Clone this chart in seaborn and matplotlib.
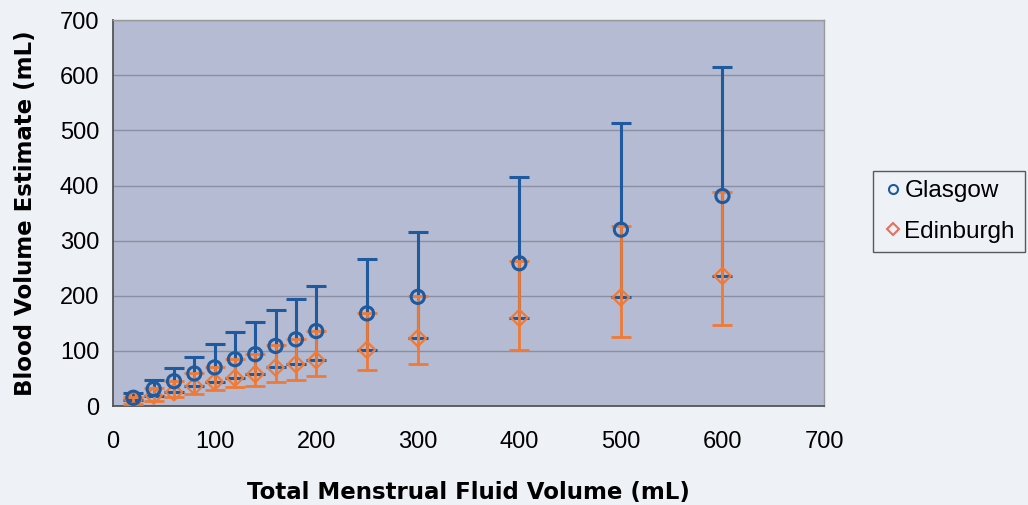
import matplotlib
matplotlib.use("Agg")
import matplotlib.pyplot as plt
import seaborn as sns
import pandas as pd
import numpy as np
from matplotlib.lines import Line2D

# ---- data ----
fluid = [20, 40, 60, 80, 100, 120, 140, 160, 180, 200, 250, 300, 400, 500, 600]
glasgow = [15, 31, 45, 59, 70, 85, 94, 109, 121, 136, 168, 198, 259, 320, 381]
glasgow_upper = [23, 47, 69, 89, 112, 134, 153, 174, 195, 218, 267, 315, 416, 514, 615]
edinburgh = [11, 19, 25, 36, 44, 51, 58, 70, 76, 83, 102, 123, 160, 197, 236]
edinburgh_lower = [4, 10, 17, 21, 29, 34, 36, 44, 47, 54, 66, 76, 102, 125, 147]
edinburgh_upper = [16, 32, 46, 60, 71, 86, 95, 110, 122, 137, 169, 199, 264, 327, 389]
x_ticks = [0, 100, 200, 300, 400, 500, 600, 700]
y_ticks = [0, 100, 200, 300, 400, 500, 600, 700]

BLUE = "#1f5a9e"
ORANGE = "#f07a35"
PLOT_BG = "#b5bbd2"
FIG_BG = "#eef2f7"
GRID = "#8a8fa3"

sns.set_theme(style="white")
plt.rcParams["font.family"] = ["Liberation Sans", "DejaVu Sans"]
plt.rcParams["text.color"] = "black"

fig = plt.figure(figsize=(10.28, 5.05), dpi=100, facecolor=FIG_BG)
ax = fig.add_axes([0.110, 0.196, 0.6916, 0.764])
ax.set_facecolor(PLOT_BG)

x = np.array(fluid, dtype=float)
g = np.array(glasgow, dtype=float)
e = np.array(edinburgh, dtype=float)

# Glasgow error bars: from Edinburgh value up to upper cap
ax.errorbar(x, g, yerr=[g - e, np.array(glasgow_upper) - g], fmt="none",
            ecolor=BLUE, elinewidth=2.2, capsize=7, capthick=2.2, zorder=3)
# Edinburgh error bars
ax.errorbar(x, e, yerr=[e - np.array(edinburgh_lower), np.array(edinburgh_upper) - e],
            fmt="none", ecolor=ORANGE, elinewidth=2.0, capsize=7, capthick=2.0, zorder=4)

df = pd.DataFrame({
    "fluid": fluid * 2,
    "blood": glasgow + edinburgh,
    "site": ["Glasgow"] * len(fluid) + ["Edinburgh"] * len(fluid),
})
sns.scatterplot(data=df[df.site == "Edinburgh"], x="fluid", y="blood", marker="D",
                s=70, facecolor="none", edgecolor=ORANGE, linewidth=1.6, ax=ax,
                legend=False, zorder=5)
sns.scatterplot(data=df[df.site == "Glasgow"], x="fluid", y="blood", marker="o",
                s=90, facecolor="none", edgecolor=BLUE, linewidth=2.2, ax=ax,
                legend=False, zorder=6)

ax.set_xlim(0, 700)
ax.set_ylim(0, 700)
ax.set_xticks(x_ticks)
ax.set_yticks(y_ticks)
ax.yaxis.grid(True, color=GRID, linewidth=1.0)
ax.set_axisbelow(True)
for side in ["top", "right"]:
    ax.spines[side].set_visible(True)
    ax.spines[side].set_color("#9a9a9a")
    ax.spines[side].set_linewidth(1.0)
for side in ["left", "bottom"]:
    ax.spines[side].set_color("#555555")
    ax.spines[side].set_linewidth(1.3)
ax.tick_params(axis="both", which="major", direction="out", length=5, width=1.2,
               color="#555555", labelsize=17, labelcolor="black", pad=5)
ax.tick_params(axis="x", pad=13)

ax.set_xlabel("Total Menstrual Fluid Volume (mL)", fontsize=16.5, fontweight="bold",
              family=["DejaVu Sans"], labelpad=20, color="black")
ax.set_ylabel("Blood Volume Estimate (mL)", fontsize=16.5, fontweight="bold",
              family=["DejaVu Sans"], labelpad=16, color="black")

handles = [
    Line2D([], [], marker="o", linestyle="none", markerfacecolor="none",
           markeredgecolor=BLUE, markeredgewidth=1.5, markersize=6.5),
    Line2D([], [], marker="D", linestyle="none", markerfacecolor="none",
           markeredgecolor="#e8705a", markeredgewidth=1.5, markersize=6),
]
leg = fig.legend(handles, ["Glasgow", "Edinburgh"], loc="upper left",
                 bbox_to_anchor=(0.849, 0.662), fontsize=17.5, frameon=True,
                 fancybox=False, edgecolor="#333333", facecolor=FIG_BG,
                 handletextpad=0.0, handlelength=0.9, borderpad=0.4,
                 labelspacing=0.75, borderaxespad=0, labelcolor="black")
leg.get_frame().set_linewidth(1.0)

fig.savefig("out.png", dpi=100, facecolor=FIG_BG)
